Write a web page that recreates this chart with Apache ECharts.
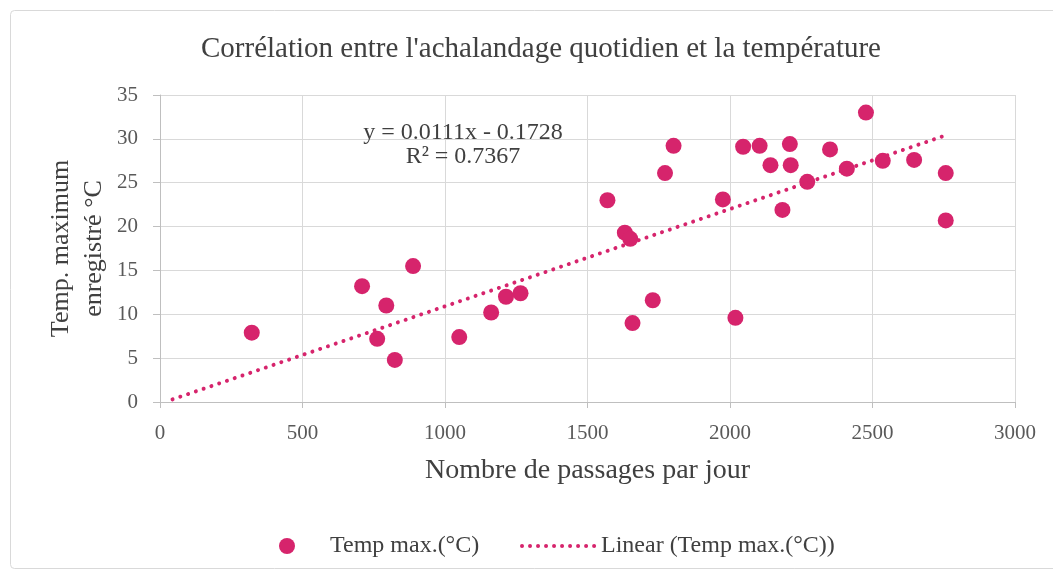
<!DOCTYPE html>
<html>
<head>
<meta charset="utf-8">
<script src="https://cdn.jsdelivr.net/npm/echarts@6/dist/echarts.min.js"></script>
<style>html,body{margin:0;padding:0;background:#fff;}#c{width:1053px;height:569px;}</style>
</head>
<body>
<div id="c"></div>
<script>
// Data
const passages = [322, 709, 794, 762, 824, 888, 1050, 1162, 1214, 1265,
  1570, 1631, 1650, 1658, 1729, 1772, 1802, 1975, 2019, 2046,
  2104, 2142, 2210, 2213, 2184, 2271, 2351, 2410, 2477, 2536,
  2646, 2757, 2757];
const tempMax = [7.9, 13.2, 11.0, 7.2, 4.8, 15.5, 7.4, 10.2, 12.0, 12.4,
  23.0, 19.3, 18.6, 9.0, 11.6, 26.1, 29.2, 23.1, 9.6, 29.1,
  29.2, 27.0, 29.4, 27.0, 21.9, 25.1, 28.8, 26.6, 33.0, 27.5,
  27.6, 26.1, 20.7];
const trendX = [44, 2757];
const trendY = [0.3, 30.4];
const xTicks = [0, 500, 1000, 1500, 2000, 2500, 3000];
const yTicks = [0, 5, 10, 15, 20, 25, 30, 35];
const titleText = "Corrélation entre l'achalandage quotidien et la température";
const xName = "Nombre de passages par jour";
const yName = "Temp. maximum\nenregistré °C";
const seriesName = "Temp max.(°C)";
const trendName = "Linear (Temp max.(°C))";
const equationText = "y = 0.0111x - 0.1728\nR² = 0.7367";

const FONT = '"Liberation Serif", "DejaVu Serif", serif';
const PINK = '#D6246C';
const TXT = '#595959';

const chart = echarts.init(document.getElementById('c'));
chart.setOption({
  animation: false,
  backgroundColor: '#fff',
  graphic: [{
    type: 'rect', left: 8, top: 8,
    shape: { width: 1070, height: 558, r: 4 },
    style: { fill: 'none', stroke: '#d9d9d9', lineWidth: 1 }
  }],
  title: [{
    text: titleText, left: 536, top: 30, textAlign: 'center',
    textStyle: { fontFamily: FONT, fontSize: 29, fontWeight: 'normal', color: '#404040' }
  }, {
    text: equationText, left: 458, top: 116, textAlign: 'center',
    textStyle: { fontFamily: FONT, fontSize: 24, fontWeight: 'normal', color: '#404040', lineHeight: 24, align: 'center' }
  }],
  grid: { left: 160, right: 38, top: 95, bottom: 167 },
  xAxis: {
    type: 'value', min: xTicks[0], max: xTicks[xTicks.length - 1], interval: 500,
    name: xName, nameLocation: 'middle', nameGap: 55,
    nameTextStyle: { fontFamily: FONT, fontSize: 28, color: '#404040' },
    axisLine: { show: true, lineStyle: { color: '#bfbfbf' } },
    axisTick: { show: true, length: 6, lineStyle: { color: '#bfbfbf' } },
    axisLabel: { fontFamily: FONT, fontSize: 21, color: TXT, margin: 21, formatter: v => String(v) },
    splitLine: { show: true, lineStyle: { color: '#d9d9d9' } }
  },
  yAxis: {
    type: 'value', min: yTicks[0], max: yTicks[yTicks.length - 1], interval: 5,
    name: yName, nameLocation: 'middle', nameGap: 49, nameRotate: 90, nameMoveOverlap: false,
    nameTextStyle: { fontFamily: FONT, fontSize: 26, color: '#404040', lineHeight: 33 },
    axisLine: { show: true, lineStyle: { color: '#bfbfbf' } },
    axisTick: { show: true, length: 7, lineStyle: { color: '#bfbfbf' } },
    axisLabel: { fontFamily: FONT, fontSize: 21, color: TXT, margin: 22, formatter: v => String(v) },
    splitLine: { show: true, lineStyle: { color: '#d9d9d9' } }
  },
  legend: [{
    data: [seriesName], left: 274, top: 529,
    itemWidth: 16, itemHeight: 16, itemGap: 10,
    icon: 'circle',
    textStyle: { fontFamily: FONT, fontSize: 24, color: '#404040', padding: [0, 0, 0, 30] }
  }, {
    data: [trendName], left: 515, top: 529,
    itemWidth: 78, itemHeight: 16,
    itemStyle: { opacity: 0 },
    lineStyle: { color: PINK, width: 4, type: [0.01, 8], cap: 'round' },
    textStyle: { fontFamily: FONT, fontSize: 24, color: '#404040', padding: [0, 0, 0, -4] }
  }],
  series: [{
    name: seriesName, type: 'scatter',
    data: passages.map((x, i) => [x, tempMax[i]]),
    symbol: 'circle', symbolSize: 16,
    itemStyle: { color: PINK, opacity: 1 }
  }, {
    name: trendName, type: 'line',
    data: trendX.map((x, i) => [x, trendY[i]]),
    symbol: 'none', showSymbol: false,
    lineStyle: { color: PINK, width: 4, type: [0.01, 8.2], cap: 'round' },
    itemStyle: { color: PINK }
  }]
});
</script>
</body>
</html>
